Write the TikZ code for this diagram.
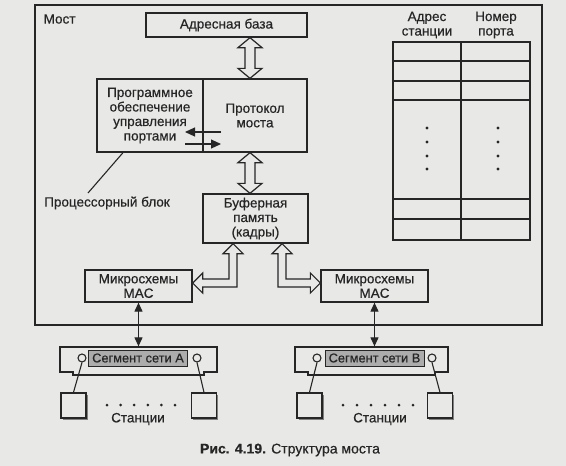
\documentclass[tikz,border=0pt]{standalone}
\usepackage{fontspec}
\setmainfont{Liberation Sans}[FakeBold=0.5]
\usetikzlibrary{arrows.meta,calc,shadows}
\definecolor{paper}{RGB}{232,232,230}
\definecolor{ink}{RGB}{38,38,38}
\definecolor{lab}{RGB}{172,172,172}
\newcommand\vdarrow[2]{%
 \path[hollow] let \p1=(#1), \p2=(#2) in
 (\x1,\y1) -- (\x1+12pt,\y1-10pt) -- (\x1+5pt,\y1-10pt) -- (\x1+5pt,\y2+10pt) -- (\x1+12pt,\y2+10pt) -- (\x1,\y2)
 -- (\x1-12pt,\y2+10pt) -- (\x1-5pt,\y2+10pt) -- (\x1-5pt,\y1-10pt) -- (\x1-12pt,\y1-10pt) -- cycle;}
\begin{document}
\begin{tikzpicture}[x=1pt,y=-1pt,line width=1.3pt,color=ink,
  font=\fontsize{13.5}{14.5}\selectfont,
  box/.style={draw=ink,fill=paper,inner sep=0pt,align=center},
  hollow/.style={draw=ink,fill=paper,line width=1.2pt,line join=miter},
  tarrow/.style={{Triangle[length=9pt,width=8pt]}-{Triangle[length=9pt,width=8pt]},line width=1.1pt},
  sarrow/.style={-{Triangle[length=10pt,width=9pt]},line width=1.1pt},
  seglab/.style={draw=ink,fill=lab,line width=1pt,inner sep=1pt,minimum width=99pt,minimum height=16pt,
    font=\fontsize{12.8}{14}\selectfont},
  port/.style={circle,draw=ink,fill=paper,line width=1.1pt,minimum size=8pt,inner sep=0pt},
  station/.style={box,minimum width=25pt,minimum height=25pt,
    drop shadow={shadow xshift=1.5pt,shadow yshift=-1.5pt,fill=ink!70,opacity=0.8}},
  txt/.style={inner sep=0pt,align=center}]
\fill[paper] (0,0) rectangle (566,466);
\useasboundingbox (0,0) rectangle (566,466);

% frame
\draw (35,5) rectangle (542,325);
\node[txt,anchor=west] (most) at (43,19) {Мост};

% boxes
\node[box,minimum width=161pt,minimum height=24pt] (adr) at (226.5,25) {Адресная база};
\node[box,minimum width=106pt,minimum height=73pt] (procL) at (150,115.5) {Программное\\обеспечение\\управления\\портами};
\node[box,minimum width=104pt,minimum height=73pt] (prot) at (255,115.5) {Протокол\\моста};
\node[box,minimum width=105pt,minimum height=49pt] (buf) at (255.5,218.5) {Буферная\\память\\(кадры)};
\node[box,minimum width=107pt,minimum height=32pt] (macL) at (138.5,286) {Микросхемы\\MAC};
\node[box,minimum width=107pt,minimum height=32pt] (macR) at (374.5,286) {Микросхемы\\MAC};

% hollow arrows
\coordinate (ax) at (250,0);
\vdarrow{adr.south -| ax}{prot.north -| ax}
\vdarrow{prot.south -| ax}{buf.north -| ax}
\coordinate (bl) at (233,0);
\coordinate (br) at (282,0);
\coordinate (hy) at (0,283);
\path[hollow] let \p1=(buf.south -| bl), \p2=(macL.east |- hy) in
 (\x1,\y1) -- (\x1+10pt,\y1-10pt) -- (\x1+4pt,\y1-10pt) -- (\x1+4pt,\y2-4pt) -- (\x2+10pt,\y2-4pt)
 -- (\x2+10pt,\y2-10pt) -- (\x2,\y2) -- (\x2+10pt,\y2+10pt) -- (\x2+10pt,\y2+4pt) -- (\x1-4pt,\y2+4pt)
 -- (\x1-4pt,\y1-10pt) -- (\x1-10pt,\y1-10pt) -- cycle;
\path[hollow] let \p1=(buf.south -| br), \p2=(macR.west |- hy) in
 (\x1,\y1) -- (\x1-10pt,\y1-10pt) -- (\x1-4pt,\y1-10pt) -- (\x1-4pt,\y2-4pt) -- (\x2-10pt,\y2-4pt)
 -- (\x2-10pt,\y2-10pt) -- (\x2,\y2) -- (\x2-10pt,\y2+10pt) -- (\x2-10pt,\y2+4pt) -- (\x1+4pt,\y2+4pt)
 -- (\x1+4pt,\y1-10pt) -- (\x1+10pt,\y1-10pt) -- cycle;

% small arrows inside processor block
\coordinate (sa1) at (221,132); \coordinate (sa2) at (185,132);
\coordinate (sb1) at (185,144); \coordinate (sb2) at (221,144);
\draw[sarrow] (sa1) -- (sa2);
\draw[sarrow] (sb1) -- (sb2);

% processor block label
\node[txt] (pbl) at (107,203) {Процессорный блок};
\coordinate (pp) at (123,0);
\coordinate (pbend) at (88,193);
\draw[line width=1.1pt] (procL.south -| pp) -- (pbend);

% table
\node[txt] (h1) at (427,25) {Адрес\\станции};
\node[txt] (h2) at (496,25) {Номер\\порта};
\draw (393,42) rectangle (530,240);
\draw (461,42) -- (461,240);
\foreach \yy in {61,81,100,199,219} \draw (393,\yy) -- (530,\yy);
\foreach \yy in {128,142,156,169} {\fill (427,\yy) circle (1.6); \fill (498,\yy) circle (1.6);}

% segment A
\draw[fill=paper] (60,347) -- (217,347) -- (217,372) -- (204,372) -- (204,375) -- (73,375) -- (73,372) -- (60,372) -- cycle;
\node[inner sep=0pt,minimum width=157pt,minimum height=25pt] (segA) at (138.5,359.5) {};
\node[seglab] (labA) at (138,358) {Сегмент сети A};
\node[port] (cA1) at (82,358) {};
\node[port] (cA2) at (197,358) {};
\node[station] (sA1) at (73.5,405.5) {};
\node[station] (sA2) at (204,405.5) {};
\draw[line width=1.1pt] (cA1.south) -- (sA1.north);
\draw[line width=1.1pt] (cA2.south) -- (sA2.north);
\foreach \i in {0,...,5} \fill (107+\i*13.6,405) circle (1.5);
\node[txt] (stA) at (138,419) {Станции};
\draw[tarrow] (macL.south) -- (segA.north);

% segment B
\draw[fill=paper] (295,347) -- (448,347) -- (448,372) -- (435,372) -- (435,375) -- (308,375) -- (308,372) -- (295,372) -- cycle;
\node[inner sep=0pt,minimum width=153pt,minimum height=25pt] (segB) at (374.5,359.5) {};
\node[seglab] (labB) at (374.5,358) {Сегмент сети B};
\node[port] (cB1) at (317,358) {};
\node[port] (cB2) at (432,358) {};
\node[station] (sB1) at (309.5,405.5) {};
\node[station] (sB2) at (440,405.5) {};
\draw[line width=1.1pt] (cB1.south) -- (sB1.north);
\draw[line width=1.1pt] (cB2.south) -- (sB2.north);
\foreach \i in {0,...,5} \fill (343+\i*14,405) circle (1.5);
\node[txt] (stB) at (380,419) {Станции};
\draw[tarrow] (macR.south) -- (segB.north);

% caption
\node[txt,font=\fontsize{14}{16}\selectfont] (cap) at (290,450) {\textbf{Рис. 4.19.} Структура моста};
\end{tikzpicture}
\end{document}
